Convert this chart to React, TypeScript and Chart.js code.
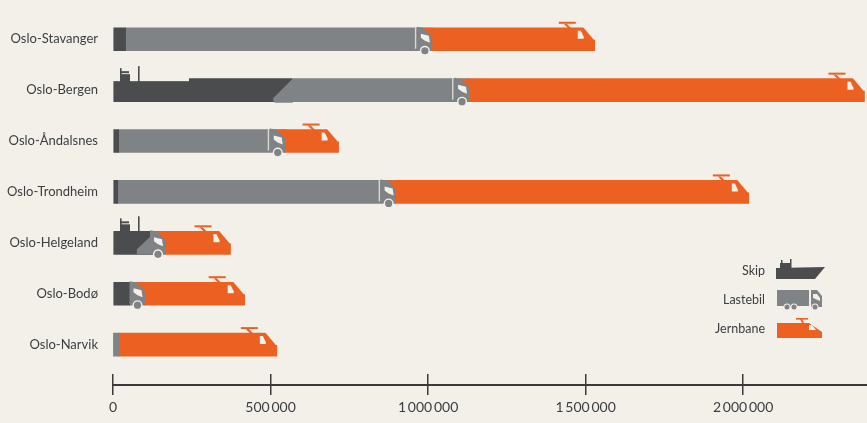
import React, { useEffect, useRef } from "react";
import { Chart, registerables } from "chart.js";

Chart.register(...registerables);

const categories = ["Oslo-Stavanger", "Oslo-Bergen", "Oslo-Åndalsnes", "Oslo-Trondheim", "Oslo-Helgeland", "Oslo-Bodø", "Oslo-Narvik"];
const skip = [40000, 567000, 18000, 15000, 139000, 53000, 0];
const lastebil = [972000, 563000, 527000, 882000, 26000, 47000, 18000];
const jernbane = [517000, 1255000, 171000, 1121000, 208000, 318000, 502000];
const xTicks = [0, 500000, 1000000, 1500000, 2000000];
const legendLabels = ["Skip", "Lastebil", "Jernbane"];

const BG = "#f3f0e9";
const DARK = "#4a4c4e";
const GRAY = "#7f8385";
const ORANGE = "#ec6122";
const TEXT = "#3b3e40";
const FONT = "Lato";

type Ctx = CanvasRenderingContext2D;

function poly(ctx: Ctx, color: string, pts: number[][]) {
  ctx.fillStyle = color;
  ctx.beginPath();
  pts.forEach((p, i) => (i ? ctx.lineTo(p[0], p[1]) : ctx.moveTo(p[0], p[1])));
  ctx.closePath();
  ctx.fill();
}

function train(ctx: Ctx, e: number, t: number) {
  // nose cut-out, window and pantograph, relative to the end of the bar
  poly(ctx, BG, [[e - 12, t - 1], [e + 1, t - 1], [e + 1, t + 12], [e - 1, t + 12]]);
  poly(ctx, ORANGE, [[e - 31, t - 4], [e - 28, t - 4], [e - 23, t + 1], [e - 26, t + 1]]);
  ctx.fillStyle = ORANGE;
  ctx.fillRect(e - 36, t - 6, 17, 2);
  poly(ctx, BG, [[e - 17, t + 3], [e - 14, t + 3], [e - 11, t + 9], [e - 11, t + 11], [e - 17, t + 11]]);
}

function cab(ctx: Ctx, e: number, t: number, b: number, line: boolean) {
  poly(ctx, ORANGE, [[e - 11, t], [e + 1, t], [e + 1, t + 9], [e - 2, t + 8]]);
  poly(ctx, GRAY, [[e - 15, t - 1], [e - 9, t], [e, t + 8], [e, b - 1], [e - 15, b - 1]]);
  if (line) {
    ctx.fillStyle = "#d9d8d3";
    ctx.fillRect(e - 17, t - 1, 1.4, b - t - 1);
  }
  poly(ctx, BG, [[e - 11, t + 6], [e - 3, t + 8], [e - 2, t + 15], [e - 7, t + 13], [e - 11, t + 10]]);
  ctx.fillStyle = BG;
  ctx.beginPath();
  ctx.arc(e - 7, b, 5, 0, Math.PI * 2);
  ctx.fill();
  ctx.fillStyle = GRAY;
  ctx.beginPath();
  ctx.arc(e - 7, b, 3.6, 0, Math.PI * 2);
  ctx.fill();
}

function superstructure(ctx: Ctx, l: number, t: number) {
  ctx.fillStyle = DARK;
  ctx.fillRect(l + 7, t - 7, 10, 8);
  ctx.fillRect(l + 7, t - 13, 1.6, 7);
  ctx.fillRect(l + 7, t - 10, 9, 2);
  ctx.fillRect(l + 25, t - 15, 1.6, 16);
}

const decorations = {
  id: "decorations",
  afterDatasetsDraw(chart: Chart) {
    const ctx = chart.ctx as Ctx;
    const x = chart.scales.x;
    const y = chart.scales.y;
    ctx.save();
    categories.forEach((_, i) => {
      const c = y.getPixelForValue(i);
      const t = c - 11.5;
      const b = c + 11.5;
      const l = x.getPixelForValue(0);
      const shipEnd = x.getPixelForValue(skip[i]);
      const truckEnd = x.getPixelForValue(skip[i] + lastebil[i]);
      const trainEnd = x.getPixelForValue(skip[i] + lastebil[i] + jernbane[i]);
      train(ctx, trainEnd, t);
      if (i === 1) {
        // the ship: stepped deck and slanted bow
        ctx.fillStyle = BG;
        ctx.fillRect(l - 1, t - 1, 77, 3.5);
        poly(ctx, GRAY, [[shipEnd + 1, t], [shipEnd - 19, b - 3], [shipEnd - 17, b + 1], [shipEnd + 1, b + 1]]);
        superstructure(ctx, l, t + 2.5);
      }
      if (i === 4) {
        superstructure(ctx, l, t);
        poly(ctx, GRAY, [[shipEnd - 20, b - 5], [shipEnd - 3, t + 2], [shipEnd + 1, t + 2], [shipEnd + 1, b], [shipEnd - 20, b]]);
      }
      if (i === 0 || i === 1 || i === 2 || i === 3) cab(ctx, truckEnd, t, b, true);
      if (i === 4 || i === 5) cab(ctx, truckEnd, t, b, false);
    });

    // upper half of the axis tick marks
    ctx.fillStyle = "#3a3a38";
    const axisY = x.top;
    x.ticks.forEach((tk) => ctx.fillRect(Math.round(x.getPixelForValue(tk.value)) - 1, axisY - 11, 1.5, 11));

    // legend
    ctx.font = `12.5px ${FONT}`;
    ctx.textAlign = "right";
    ctx.textBaseline = "middle";
    ctx.fillStyle = TEXT;
    legendLabels.forEach((txt, i) => ctx.fillText(txt, 765, 271 + i * 29));

    // ship icon
    poly(ctx, DARK, [[776, 268], [825, 267], [815, 279], [776, 279]]);
    ctx.fillStyle = DARK;
    ctx.fillRect(780, 263, 10, 6);
    ctx.fillRect(781, 260, 1.5, 4);
    ctx.fillRect(790, 259, 1.5, 9);
    // truck icon
    ctx.fillStyle = GRAY;
    ctx.fillRect(777, 290, 32, 16);
    poly(ctx, GRAY, [[811, 290], [817, 290], [822, 296], [822, 307], [811, 307]]);
    poly(ctx, BG, [[813, 294], [817, 294], [820, 298], [820, 301], [813, 298]]);
    [787, 794, 815].forEach((wx) => {
      ctx.fillStyle = BG;
      ctx.beginPath();
      ctx.arc(wx, 307, 3.5, 0, Math.PI * 2);
      ctx.fill();
      ctx.fillStyle = GRAY;
      ctx.beginPath();
      ctx.arc(wx, 307, 2.5, 0, Math.PI * 2);
      ctx.fill();
    });
    // train icon
    poly(ctx, ORANGE, [[777, 323], [809, 323], [822, 332], [822, 338], [777, 338]]);
    ctx.fillStyle = ORANGE;
    ctx.fillRect(796, 318, 12, 1.6);
    poly(ctx, ORANGE, [[800, 319], [802, 319], [804, 323], [802, 323]]);
    poly(ctx, BG, [[809, 325], [812, 325], [816, 330], [809, 330]]);
    ctx.restore();
  },
};

export default function App() {
  const ref = useRef<HTMLCanvasElement>(null);
  useEffect(() => {
    document.body.style.margin = "0";
    const toPoints = (arr: number[]) => arr.map((v, i) => ({ x: v, y: i }));
    const chart = new Chart(ref.current!, {
      type: "bar",
      data: {
        datasets: [
          { label: legendLabels[0], data: toPoints(skip), backgroundColor: DARK },
          { label: legendLabels[1], data: toPoints(lastebil), backgroundColor: GRAY },
          { label: legendLabels[2], data: toPoints(jernbane), backgroundColor: ORANGE },
        ],
      },
      options: {
        indexAxis: "y",
        responsive: false,
        animation: false,
        layout: { padding: 0 },
        datasets: { bar: { barThickness: 23, borderWidth: 0 } },
        plugins: { legend: { display: false }, tooltip: { enabled: false } },
        scales: {
          x: {
            type: "linear",
            stacked: true,
            min: 0,
            max: 2393000,
            afterBuildTicks: (s: any) => {
              s.ticks = xTicks.map((value) => ({ value }));
            },
            afterFit: (s: any) => {
              s.height = 38;
            },
            border: { display: true, color: "#3a3a38", width: 2 },
            grid: { drawOnChartArea: false, drawTicks: true, tickLength: 10, color: "#3a3a38", lineWidth: 1.5 },
            ticks: {
              color: TEXT,
              padding: 4,
              maxRotation: 0,
              autoSkip: false,
              font: { family: FONT, size: 14 },
              callback: (v: any) => String(v).replace(/\B(?=(\d{3})+(?!\d))/g, "\u2009"),
            },
          },
          y: {
            type: "linear",
            stacked: true,
            reverse: true,
            offset: false,
            min: -0.3235,
            max: 6.794,
            afterBuildTicks: (s: any) => {
              s.ticks = categories.map((_, value) => ({ value }));
            },
            afterFit: (s: any) => {
              s.width = 113;
            },
            border: { display: false },
            grid: { display: false, drawTicks: false, offset: false },
            ticks: {
              color: TEXT,
              padding: 15,
              autoSkip: false,
              font: { family: FONT, size: 13 },
              callback: (v: any) => categories[v],
            },
          },
        },
      } as any,
      plugins: [decorations],
    });
    return () => chart.destroy();
  }, []);
  return (
    <div style={{ width: 867, height: 423, background: BG, overflow: "hidden" }}>
      <canvas ref={ref} width={867} height={423} style={{ display: "block", filter: "blur(0.4px)" }} />
    </div>
  );
}
